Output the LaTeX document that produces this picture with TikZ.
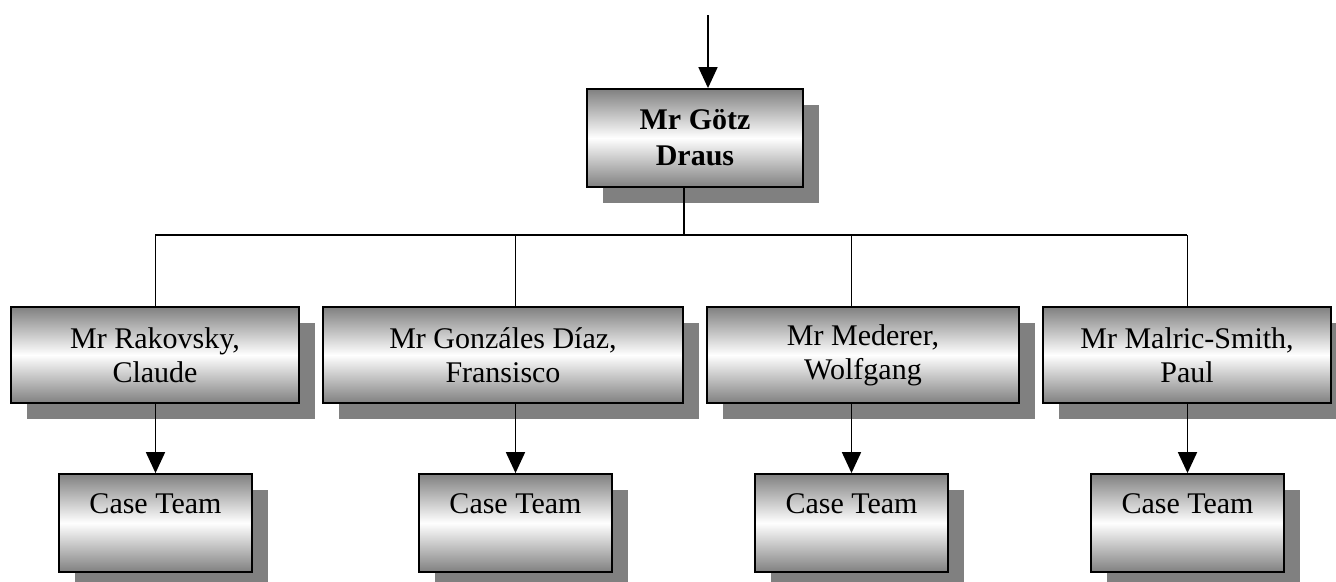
\documentclass[tikz,border=0pt]{standalone}
\usepackage{fontspec}
\setmainfont{Liberation Serif}
\usetikzlibrary{arrows.meta,shadows}
\definecolor{edgegray}{RGB}{128,128,128}
\definecolor{shadowgray}{RGB}{128,128,128}
\tikzset{
  orgbox/.style={draw=black, line width=1.8pt, rectangle, inner sep=0pt,
    top color=edgegray, bottom color=edgegray, middle color=white,
    drop shadow={shadow xshift=16pt, shadow yshift=-16pt, fill=shadowgray, opacity=1},
    font=\fontsize{30pt}{34pt}\selectfont, align=center},
  headbox/.style={orgbox, minimum width=216pt, minimum height=98pt,
    font=\fontsize{30pt}{36pt}\selectfont\bfseries},
  mgrbox/.style={orgbox, minimum height=96pt},
  teambox/.style={orgbox, minimum width=193pt, minimum height=98pt,
    text height=20pt, text depth=40pt},
  link/.style={draw=black, line width=1.8pt},
  arr/.style={link, -{Triangle[width=19pt,length=21pt]}}
}
\begin{document}
\begin{tikzpicture}[x=1pt, y=-1pt]
  \useasboundingbox (0,0) rectangle (1336,581);

  % head of the unit
  \node[headbox] (head) at (695,138) {Mr Götz\\Draus};

  % managers
  \node[mgrbox, minimum width=288pt] (m1) at (155,355)  {Mr Rakovsky,\\Claude};
  \node[mgrbox, minimum width=360pt] (m2) at (503,355)  {Mr Gonzáles Díaz,\\Fransisco};
  \node[mgrbox, minimum width=312pt] (m3) at (863,355)  {Mr Mederer,\\Wolfgang};
  \node[mgrbox, minimum width=288pt] (m4) at (1187,355) {Mr Malric-Smith,\\Paul};

  % case teams
  \node[teambox] (c1) at (155.5,523)  {Case Team};
  \node[teambox] (c2) at (515.5,523)  {Case Team};
  \node[teambox] (c3) at (851.5,523)  {Case Team};
  \node[teambox] (c4) at (1187.5,523) {Case Team};

  % incoming arrow and the bus
  \coordinate (entry) at (708,15);
  \coordinate (stem) at (684,235);
  \coordinate (busL) at (155,235);
  \coordinate (busR) at (1187,235);

  \draw[arr] (entry) -- (entry |- head.north);
  \draw[link] (stem |- head.south) -- (stem);
  \draw[link] (busL) -- (busR);

  % drops to the managers and arrows to their teams
  \draw[link] (busL -| c1.north) -- (m1.north -| c1.north);
  \draw[link] (busL -| c2.north) -- (m2.north -| c2.north);
  \draw[link] (busL -| c3.north) -- (m3.north -| c3.north);
  \draw[link] (busL -| c4.north) -- (m4.north -| c4.north);

  \draw[arr] (m1.south -| c1.north) -- (c1.north);
  \draw[arr] (m2.south -| c2.north) -- (c2.north);
  \draw[arr] (m3.south -| c3.north) -- (c3.north);
  \draw[arr] (m4.south -| c4.north) -- (c4.north);
\end{tikzpicture}
\end{document}
